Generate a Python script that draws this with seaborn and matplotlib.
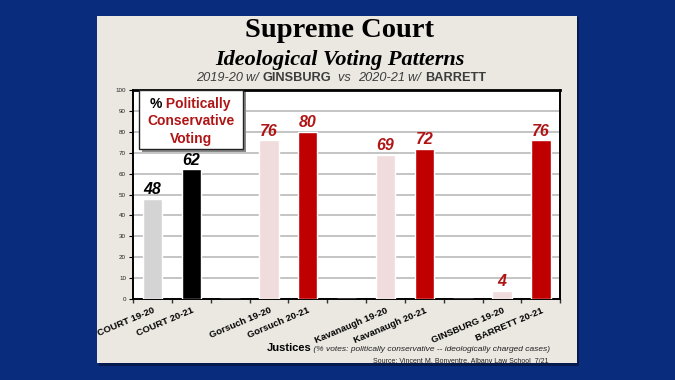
import matplotlib
matplotlib.use('Agg')
import matplotlib.pyplot as plt
import numpy as np
import pandas as pd
import seaborn as sns
from matplotlib.patches import Rectangle

# data
categories = ['COURT 19-20', 'COURT 20-21', ' ',
              'Gorsuch 19-20', 'Gorsuch 20-21', '  ',
              'Kavanaugh 19-20', 'Kavanaugh 20-21', '   ',
              'GINSBURG 19-20', 'BARRETT 20-21']
values = [48, 62, 0, 76, 80, 0, 69, 72, 0, 4, 76]
shown = [True, True, False, True, True, False, True, True, False, True, True]
bar_colors = ['#d4d4d4', '#000000', '#ffffff',
              '#f0dcdc', '#c00000', '#ffffff',
              '#f0dcdc', '#c00000', '#ffffff',
              '#f0dcdc', '#c00000']
label_colors = ['#000000', '#000000', '#000000',
                '#b01515', '#b01515', '#000000',
                '#b01515', '#b01515', '#000000',
                '#b01515', '#b01515']
y_ticks = list(range(0, 101, 10))

df = pd.DataFrame({'cat': categories, 'val': values})

sns.set_style('white')
plt.rcParams['font.family'] = ['Liberation Sans', 'DejaVu Sans']
plt.rcParams['text.color'] = 'black'
plt.rcParams['xtick.color'] = 'black'
plt.rcParams['ytick.color'] = 'black'

BG = '#0a2c7c'
PANEL = '#ebe8e1'
RED = '#b01515'
GRAY = '#3c3c3c'


def chain(ax, first, pieces, **kw):
    """Place text pieces one after another, starting right of `first`."""
    prev = first
    for txt, st, wt in pieces:
        prev = ax.annotate(txt, xy=(1, 0), xycoords=prev, xytext=(0, 0),
                           textcoords='offset points', fontstyle=st, fontweight=wt,
                           va='bottom', annotation_clip=False, **kw)
    return prev


fig = plt.figure(figsize=(6.75, 3.8), dpi=100)
fig.patch.set_facecolor(BG)

# beige panel with a little shadow
fig.patches.append(Rectangle((0.147, 0.038), 0.711, 0.916, transform=fig.transFigure,
                             facecolor='#051a4d', edgecolor='none', zorder=-2))
fig.patches.append(Rectangle((0.144, 0.045), 0.711, 0.913, transform=fig.transFigure,
                             facecolor=PANEL, edgecolor='none', zorder=-1))

ax = fig.add_axes([0.197, 0.213, 0.633, 0.55])
ax.set_zorder(2)
sns.barplot(data=df, x='cat', y='val', hue='cat', palette=dict(zip(categories, bar_colors)),
            order=categories, width=0.5, legend=False, saturation=1, ax=ax, zorder=3)
ax.set_facecolor('white')
ax.set_ylim(0, 100)
ax.set_xlim(-0.5, len(categories) - 0.5)
ax.set_yticks(y_ticks)
ax.set_yticklabels([str(t) for t in y_ticks], fontsize=4.5, color='#222222')
ax.yaxis.grid(True, color='#b4b4b4', linewidth=1.1, zorder=0)
ax.set_axisbelow(True)
for s in ax.spines.values():
    s.set_color('black')
    s.set_linewidth(1.4)
ax.spines['top'].set_linewidth(2)

# category labels at centers, tick marks at slot boundaries
ax.set_xticks(range(len(categories)))
ax.set_xticklabels(categories, rotation=23, ha='right', rotation_mode='anchor',
                   fontsize=6.8, fontweight='bold')
ax.tick_params(axis='x', which='major', length=0, pad=5)
ax.set_xticks(np.arange(-0.5, len(categories), 1), minor=True)
ax.tick_params(axis='x', which='minor', length=3, width=1, color='#333333', direction='out',
               bottom=True)
ax.tick_params(axis='y', length=3, width=0.8, pad=2, direction='out', left=True)
ax.set_xlabel('')
ax.set_ylabel('')

for i, (v, c, show) in enumerate(zip(values, label_colors, shown)):
    if show:
        ax.annotate(str(v), xy=(i, v), xytext=(0, 1), textcoords='offset points',
                    ha='center', va='bottom', fontsize=11.5, fontweight='bold',
                    fontstyle='italic', color=c, zorder=5)

# legend-like box
ax.add_patch(Rectangle((0.021, 0.705), 0.244, 0.285, transform=ax.transAxes,
                       facecolor='#8a8a8a', edgecolor='none', zorder=6, clip_on=False))
ax.add_patch(Rectangle((0.014, 0.718), 0.244, 0.282, transform=ax.transAxes,
                       facecolor='white', edgecolor='#222222', linewidth=1, zorder=7,
                       clip_on=False))
pct = ax.text(0.04, 0.9, '%', transform=ax.transAxes, fontsize=10, fontweight='bold',
              color='black', va='bottom', zorder=8)
ax.annotate(' Politically', xy=(1, 0), xycoords=pct, xytext=(0, 0), textcoords='offset points',
            fontsize=10, fontweight='bold', color=RED, va='bottom', zorder=8)
ax.text(0.136, 0.817, 'Conservative', transform=ax.transAxes, fontsize=10, fontweight='bold',
        color=RED, ha='center', va='bottom', zorder=8)
ax.text(0.136, 0.734, 'Voting', transform=ax.transAxes, fontsize=10, fontweight='bold',
        color=RED, ha='center', va='bottom', zorder=8)

# titles
fig.text(0.503, 0.903, 'Supreme Court', ha='center', va='baseline', fontsize=20.5,
         fontweight='bold', family='Liberation Serif')
fig.text(0.503, 0.83, 'Ideological Voting Patterns', ha='center', va='baseline', fontsize=16,
         fontweight='bold', fontstyle='italic', family='Liberation Serif')

first = fig.text(0.29, 0.778, '2019-20 ', fontsize=9.2, fontstyle='italic', color=GRAY,
                 va='bottom')
chain(ax, first, [('w/ ', 'italic', 'normal'), ('GINSBURG', 'normal', 'bold'),
                  ('  vs  ', 'italic', 'normal'), ('2020-21 ', 'italic', 'normal'),
                  ('w/ ', 'italic', 'normal'), ('BARRETT', 'normal', 'bold')],
      fontsize=9.2, color=GRAY)

# axis caption and source
jt = fig.text(0.395, 0.072, 'Justices', fontsize=8, fontweight='bold', va='bottom')
chain(ax, jt, [(' (% votes: politically conservative -- ideologically charged cases)',
                'italic', 'normal')], fontsize=6, color='#222222')
fig.text(0.813, 0.045, 'Source: Vincent M. Bonventre, Albany Law School  7/21', fontsize=5,
         ha='right', va='baseline', color='#222222')

fig.savefig('out.png', dpi=100, facecolor=BG)
